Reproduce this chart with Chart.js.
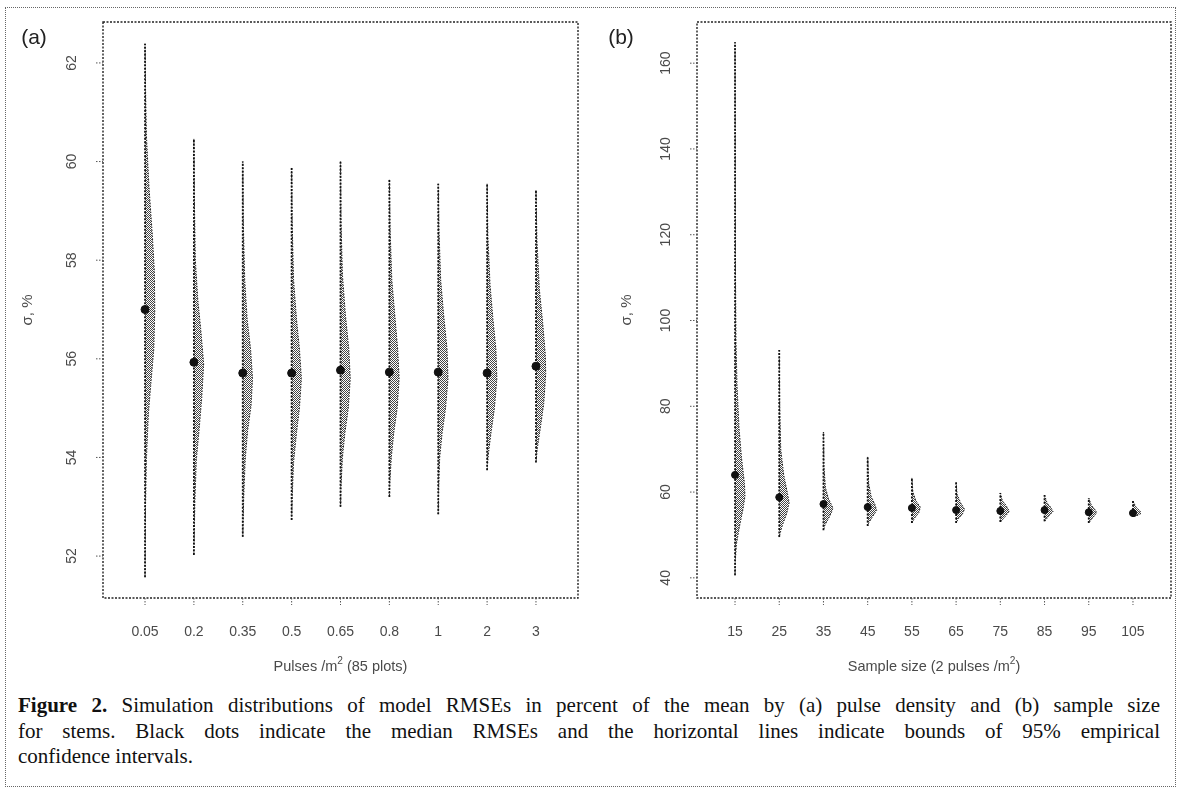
<!DOCTYPE html>
<html>
<head>
<meta charset="utf-8">
<script src="https://cdn.jsdelivr.net/npm/chart.js@4.4.0/dist/chart.umd.min.js"></script>
<style>
  body { margin: 0; background: #fff; width: 1177px; height: 789px; overflow: hidden; position: relative; }
  #frame { position: absolute; left: 5px; top: 7px; width: 1171px; height: 780px; border: 1px dotted #666; box-sizing: border-box; }
  #chartA { position: absolute; left: 0; top: 0; }
  #chartB { position: absolute; left: 595px; top: 0; }
  #caption { position: absolute; left: 18px; top: 693px; width: 1142px;
    font-family: "Liberation Serif", "Times New Roman", serif; font-size: 21px; line-height: 25.5px; color: #111; }
  #caption div { text-align: justify; text-align-last: justify; }
  #caption div.last { text-align-last: left; }
</style>
</head>
<body>
<div id="frame"></div>
<canvas id="chartA" width="595" height="690"></canvas>
<canvas id="chartB" width="582" height="690"></canvas>
<div id="caption">
  <div><b>Figure 2.</b> Simulation distributions of model RMSEs in percent of the mean by (a) pulse density and (b) sample size</div>
  <div>for stems. Black dots indicate the median RMSEs and the horizontal lines indicate bounds of 95% empirical</div>
  <div class="last">confidence intervals.</div>
</div>
<script>
// panel (a): pulse density
const pulseLabels = ["0.05", "0.2", "0.35", "0.5", "0.65", "0.8", "1", "2", "3"];
const pulseMedians = [57.0, 55.93, 55.71, 55.71, 55.77, 55.73, 55.73, 55.71, 55.85];
const pulseMin = [51.57, 52.02, 52.39, 52.73, 53.0, 53.2, 52.85, 53.74, 53.9];
const pulseMax = [62.39, 60.46, 60.0, 59.87, 60.0, 59.63, 59.55, 59.55, 59.42];
// [value, relative density] pairs, top to bottom
const pulseDensity = [
  [[62.39, 0], [61.5, 0.05], [60.5, 0.15], [59.5, 0.4], [58.5, 0.75], [57.8, 0.95], [57.0, 1.0], [56.2, 0.9], [55.5, 0.6], [54.9, 0.35], [54.0, 0.15], [53.0, 0.05], [51.57, 0]],
  [[60.46, 0], [59.2, 0.05], [58.0, 0.15], [57.2, 0.4], [56.6, 0.7], [55.9, 1.0], [55.2, 0.8], [54.6, 0.55], [53.95, 0.25], [53.1, 0.1], [52.02, 0]],
  [[60.0, 0], [58.8, 0.05], [57.6, 0.2], [56.8, 0.45], [56.2, 0.8], [55.6, 1.0], [55.05, 0.85], [54.55, 0.5], [53.95, 0.25], [53.2, 0.1], [52.39, 0]],
  [[59.87, 0], [58.8, 0.05], [57.6, 0.2], [56.8, 0.5], [56.2, 0.8], [55.6, 1.0], [55.0, 0.8], [54.5, 0.5], [53.9, 0.2], [53.3, 0.08], [52.73, 0]],
  [[60.0, 0], [58.8, 0.05], [57.7, 0.2], [56.9, 0.5], [56.2, 0.85], [55.6, 1.0], [55.0, 0.8], [54.5, 0.45], [54.0, 0.2], [53.4, 0.05], [53.0, 0]],
  [[59.63, 0], [58.6, 0.08], [57.6, 0.25], [56.9, 0.55], [56.2, 0.85], [55.6, 1.0], [55.0, 0.8], [54.5, 0.45], [54.0, 0.2], [53.5, 0.05], [53.2, 0]],
  [[59.55, 0], [58.6, 0.08], [57.6, 0.25], [56.9, 0.55], [56.2, 0.9], [55.6, 1.0], [55.0, 0.75], [54.5, 0.4], [54.0, 0.15], [53.4, 0.05], [52.85, 0]],
  [[59.55, 0], [58.5, 0.08], [57.5, 0.3], [56.8, 0.6], [56.2, 0.9], [55.6, 1.0], [55.0, 0.75], [54.5, 0.4], [54.1, 0.15], [53.74, 0]],
  [[59.42, 0], [58.4, 0.1], [57.4, 0.35], [56.7, 0.7], [56.1, 0.95], [55.7, 1.0], [55.1, 0.8], [54.6, 0.45], [54.2, 0.15], [53.9, 0]]
];
const pulseYTicks = [52, 54, 56, 58, 60, 62];

// panel (b): sample size
const sampleLabels = ["15", "25", "35", "45", "55", "65", "75", "85", "95", "105"];
const sampleMedians = [64.0, 58.8, 57.2, 56.5, 56.3, 55.8, 55.6, 55.8, 55.3, 55.1];
const sampleMin = [40.6, 49.5, 51.1, 52.1, 52.8, 52.8, 53.0, 53.2, 52.8, 54.2];
const sampleMax = [164.9, 93.1, 74.0, 68.2, 63.3, 62.3, 59.8, 59.3, 58.6, 57.9];
const sampleDensity = [
  [[164.9, 0], [130, 0.03], [110, 0.05], [95, 0.1], [85, 0.2], [75, 0.4], [68, 0.65], [62, 0.95], [59, 1.0], [56, 0.8], [52, 0.45], [48, 0.15], [44, 0.03], [40.6, 0]],
  [[93.1, 0], [80, 0.05], [70, 0.15], [64, 0.45], [60, 0.8], [57.5, 1.0], [55, 0.75], [52.5, 0.35], [50.5, 0.1], [49.5, 0]],
  [[74.0, 0], [66, 0.05], [61, 0.2], [58.5, 0.5], [56.3, 0.95], [55.2, 0.8], [53.8, 0.5], [52.3, 0.15], [51.1, 0]],
  [[68.2, 0], [62, 0.1], [59, 0.35], [57, 0.75], [55.7, 0.9], [54.3, 0.5], [52.8, 0.1], [52.1, 0]],
  [[63.3, 0], [60, 0.1], [58, 0.4], [56.5, 0.85], [55.2, 0.7], [54, 0.3], [52.8, 0]],
  [[62.3, 0], [59.5, 0.1], [57.5, 0.45], [56, 0.85], [54.7, 0.6], [53.7, 0.2], [52.8, 0]],
  [[59.8, 0], [58, 0.2], [56.8, 0.6], [55.5, 0.9], [54.3, 0.5], [53.0, 0]],
  [[59.3, 0], [57.5, 0.25], [56.5, 0.6], [55.5, 0.85], [54.3, 0.4], [53.2, 0]],
  [[58.6, 0], [57, 0.25], [56, 0.6], [55.2, 0.8], [54, 0.4], [52.8, 0]],
  [[57.9, 0], [56.5, 0.3], [55.6, 0.7], [55, 0.8], [54.5, 0.4], [54.2, 0]]
];
const sampleYTicks = [40, 60, 80, 100, 120, 140, 160];

const SANS = '"Liberation Sans", Arial, sans-serif';

// checker dot shading like the scanned figure
const patCanvas = document.createElement("canvas");
patCanvas.width = 2;
patCanvas.height = 2;
const pg = patCanvas.getContext("2d");
pg.fillStyle = "#fff";
pg.fillRect(0, 0, 2, 2);
pg.fillStyle = "#444";
pg.fillRect(0, 0, 1, 1);
pg.fillRect(1, 1, 1, 1);
const shade = pg.createPattern(patCanvas, "repeat");

function buildDatasets(density, mins, maxs, medians, halfWidth, dotRadius) {
  const sets = [];
  sets.push({
    data: medians.map((v, i) => ({ x: i + 1, y: v })),
    showLine: false,
    pointRadius: dotRadius,
    pointBackgroundColor: "#111",
    pointBorderColor: "#111",
    order: 0,
  });
  mins.forEach((lo, i) => {
    sets.push({
      data: [{ x: i + 1, y: lo }, { x: i + 1, y: maxs[i] }],
      showLine: true,
      borderColor: "#111",
      borderWidth: 1.8,
      borderDash: [2, 1.5],
      pointRadius: 0,
      order: 1,
    });
  });
  density.forEach((prof, i) => {
    sets.push({
      data: prof.map(([v, d]) => ({ x: i + 1 + d * halfWidth, y: v })),
      violinBase: i + 1,
      showLine: true,
      borderColor: "#222",
      borderWidth: 1,
      borderDash: [1.5, 1.5],
      pointRadius: 0,
      tension: 0,
      order: 2,
    });
  });
  return sets;
}

function drawParts(ctx, parts, cx, y, size) {
  const widths = parts.map(([t, sup]) => {
    ctx.font = (sup ? size * 0.7 : size) + "px " + SANS;
    return ctx.measureText(t).width;
  });
  let x = cx - widths.reduce((a, b) => a + b, 0) / 2;
  ctx.textAlign = "left";
  ctx.textBaseline = "middle";
  parts.forEach(([t, sup], k) => {
    ctx.font = (sup ? size * 0.7 : size) + "px " + SANS;
    ctx.fillText(t, x, sup ? y - size * 0.4 : y);
    x += widths[k];
  });
}

function figurePlugin(cfg) {
  return {
    id: "figure",
    beforeDatasetsDraw(chart) {
      const ctx = chart.ctx;
      const xs = chart.scales.x;
      ctx.save();
      chart.data.datasets.forEach((ds, i) => {
        if (ds.violinBase === undefined) return;
        const pts = chart.getDatasetMeta(i).data;
        const bx = xs.getPixelForValue(ds.violinBase);
        ctx.beginPath();
        ctx.moveTo(bx, pts[0].y);
        pts.forEach((p) => ctx.lineTo(p.x, p.y));
        ctx.lineTo(bx, pts[pts.length - 1].y);
        ctx.closePath();
        ctx.fillStyle = shade;
        ctx.fill();
      });
      ctx.restore();
    },
    afterDraw(chart) {
      const ctx = chart.ctx;
      const a = chart.chartArea;
      const xs = chart.scales.x;
      const ys = chart.scales.y;
      ctx.save();
      // dotted box round the plot
      ctx.strokeStyle = "#222";
      ctx.lineWidth = 1.4;
      ctx.setLineDash([2, 1.5]);
      ctx.strokeRect(a.left, a.top, a.right - a.left, a.bottom - a.top);

      ctx.strokeStyle = "#555";
      ctx.lineWidth = 1;
      ctx.setLineDash([1.5, 1.5]);
      ctx.fillStyle = "#4a4a4a";
      ctx.font = "14px " + SANS;
      ctx.textAlign = "center";
      ctx.textBaseline = "middle";
      cfg.yTicks.forEach((t) => {
        const y = ys.getPixelForValue(t);
        ctx.beginPath();
        ctx.moveTo(a.left - 7, y);
        ctx.lineTo(a.left, y);
        ctx.stroke();
        ctx.save();
        ctx.translate(a.left - 31, y);
        ctx.rotate(-Math.PI / 2);
        ctx.fillText(String(t), 0, 0);
        ctx.restore();
      });
      cfg.xLabels.forEach((lab, i) => {
        const x = xs.getPixelForValue(i + 1);
        ctx.beginPath();
        ctx.moveTo(x, a.bottom);
        ctx.lineTo(x, a.bottom + 7);
        ctx.stroke();
        ctx.fillText(lab, x, a.bottom + 34);
      });

      // axis titles
      ctx.fillStyle = "#4a4a4a";
      drawParts(ctx, cfg.xTitle, (a.left + a.right) / 2, a.bottom + 69, 14.5);
      ctx.save();
      ctx.translate(a.left - cfg.yTitleGap, (a.top + a.bottom) / 2);
      ctx.rotate(-Math.PI / 2);
      ctx.font = "15px " + SANS;
      ctx.textAlign = "center";
      ctx.textBaseline = "middle";
      ctx.fillText("σ, %", 0, 0);
      ctx.restore();

      // panel tag
      ctx.fillStyle = "#222";
      ctx.font = "21px " + SANS;
      ctx.textAlign = "center";
      ctx.fillText(cfg.tag, cfg.tagX, 38);
      ctx.restore();
    },
  };
}

function makeChart(id, cfg) {
  const canvas = document.getElementById(id);
  return new Chart(canvas.getContext("2d"), {
    type: "scatter",
    data: { datasets: cfg.datasets },
    options: {
      responsive: false,
      animation: false,
      events: [],
      devicePixelRatio: 1,
      layout: { padding: { left: 0, right: canvas.width - cfg.right, top: 22, bottom: 0 } },
      plugins: { legend: { display: false }, tooltip: { enabled: false } },
      scales: {
        x: {
          type: "linear",
          min: cfg.xMin,
          max: cfg.xMax,
          grid: { display: false },
          border: { display: false },
          ticks: { display: false },
          afterFit: (s) => { s.height = canvas.height - 598; },
        },
        y: {
          type: "linear",
          min: cfg.yMin,
          max: cfg.yMax,
          grid: { display: false },
          border: { display: false },
          ticks: { display: false },
          afterFit: (s) => { s.width = cfg.left; },
        },
      },
    },
    plugins: [figurePlugin(cfg)],
  });
}

makeChart("chartA", {
  datasets: buildDatasets(pulseDensity, pulseMin, pulseMax, pulseMedians, 0.2, 4),
  xLabels: pulseLabels,
  yTicks: pulseYTicks,
  xTitle: [["Pulses /m", false], ["2", true], [" (85 plots)", false]],
  xMin: 0.14, xMax: 9.86, yMin: 51.15, yMax: 62.83,
  left: 103, right: 578, yTitleGap: 75, tag: "(a)", tagX: 34,
});

makeChart("chartB", {
  datasets: buildDatasets(sampleDensity, sampleMin, sampleMax, sampleMedians, 0.225, 3.5),
  xLabels: sampleLabels,
  yTicks: sampleYTicks,
  xTitle: [["Sample size (2 pulses /m", false], ["2", true], [")", false]],
  xMin: 0.14, xMax: 10.86, yMin: 35.3, yMax: 169.6,
  left: 102, right: 576, yTitleGap: 70, tag: "(b)", tagX: 26,
});
</script>
</body>
</html>
